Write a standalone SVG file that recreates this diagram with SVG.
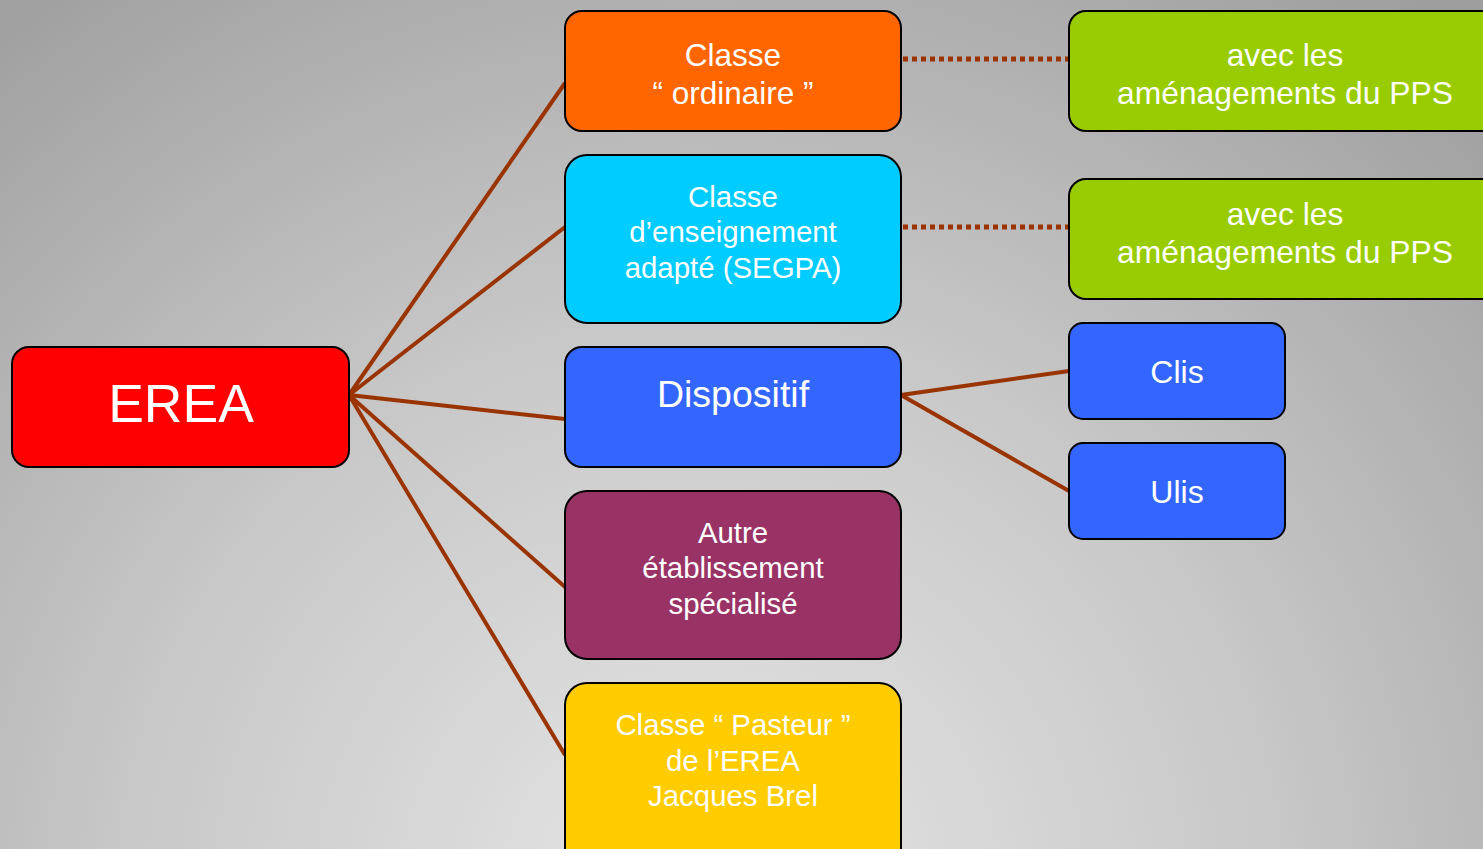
<svg xmlns="http://www.w3.org/2000/svg" width="1483" height="849" viewBox="0 0 1483 849">
<defs>
<radialGradient id="bg" gradientUnits="userSpaceOnUse" cx="700" cy="900" r="1150">
<stop offset="0" stop-color="#e6e6e6"/>
<stop offset="0.5" stop-color="#c8c8c8"/>
<stop offset="1" stop-color="#9e9e9e"/>
</radialGradient>
<style>
.box{stroke:#000;stroke-width:2}
.t{font-family:"Liberation Sans",Arial,sans-serif;fill:#fff;text-anchor:middle}
.c{stroke:#993300;stroke-width:4;fill:none}
.d{stroke:#993300;stroke-width:5;stroke-dasharray:5 4;fill:none}
</style>
</defs>
<rect width="1483" height="849" fill="url(#bg)"/>
<g id="connectors">
<line class="c" x1="349" y1="395" x2="565" y2="83"/>
<line class="c" x1="349" y1="395" x2="565" y2="227"/>
<line class="c" x1="349" y1="395" x2="565" y2="419"/>
<line class="c" x1="349" y1="395" x2="565" y2="587"/>
<line class="c" x1="349" y1="395" x2="565" y2="755"/>
<line class="c" x1="901" y1="395" x2="1069" y2="371"/>
<line class="c" x1="901" y1="395" x2="1069" y2="491"/>
<line class="d" x1="903" y1="59" x2="1069" y2="59"/>
<line class="d" x1="903" y1="227" x2="1069" y2="227"/>
</g>
<g id="erea">
<rect class="box" x="12" y="347" width="337" height="120" rx="17" fill="#ff0000"/>
<text class="t" x="181" y="422" font-size="53.5">EREA</text>
</g>
<g id="ordinaire">
<rect class="box" x="565" y="11" width="336" height="120" rx="17" fill="#ff6600"/>
<text class="t" x="733" y="66" font-size="31.5">Classe</text>
<text class="t" x="733" y="104" font-size="31.5">“ ordinaire ”</text>
</g>
<g id="segpa">
<rect class="box" x="565" y="155" width="336" height="168" rx="22" fill="#00ccff"/>
<text class="t" x="733" y="207" font-size="29.4">Classe</text>
<text class="t" x="733" y="242" font-size="29.4">d’enseignement</text>
<text class="t" x="733" y="278" font-size="29.4">adapté (SEGPA)</text>
</g>
<g id="dispositif">
<rect class="box" x="565" y="347" width="336" height="120" rx="17" fill="#3366ff"/>
<text class="t" x="733" y="407" font-size="37.5">Dispositif</text>
</g>
<g id="autre">
<rect class="box" x="565" y="491" width="336" height="168" rx="22" fill="#993366"/>
<text class="t" x="733" y="543" font-size="29.4">Autre</text>
<text class="t" x="733" y="578" font-size="29.4">établissement</text>
<text class="t" x="733" y="614" font-size="29.4">spécialisé</text>
</g>
<g id="pasteur">
<rect class="box" x="565" y="683" width="336" height="190" rx="22" fill="#ffcc00"/>
<text class="t" x="733" y="735" font-size="29.4">Classe “ Pasteur ”</text>
<text class="t" x="733" y="771" font-size="29.4">de l’EREA</text>
<text class="t" x="733" y="806" font-size="29.4">Jacques Brel</text>
</g>
<g id="pps1">
<rect class="box" x="1069" y="11" width="440" height="120" rx="17" fill="#99cc00"/>
<text class="t" x="1285" y="66" font-size="31.8">avec les</text>
<text class="t" x="1285" y="104" font-size="31.8">aménagements du PPS</text>
</g>
<g id="pps2">
<rect class="box" x="1069" y="179" width="440" height="120" rx="17" fill="#99cc00"/>
<text class="t" x="1285" y="225" font-size="31.8">avec les</text>
<text class="t" x="1285" y="263" font-size="31.8">aménagements du PPS</text>
</g>
<g id="clis">
<rect class="box" x="1069" y="323" width="216" height="96" rx="14" fill="#3366ff"/>
<text class="t" x="1177" y="383" font-size="32">Clis</text>
</g>
<g id="ulis">
<rect class="box" x="1069" y="443" width="216" height="96" rx="14" fill="#3366ff"/>
<text class="t" x="1177" y="503" font-size="32">Ulis</text>
</g>
</svg>
